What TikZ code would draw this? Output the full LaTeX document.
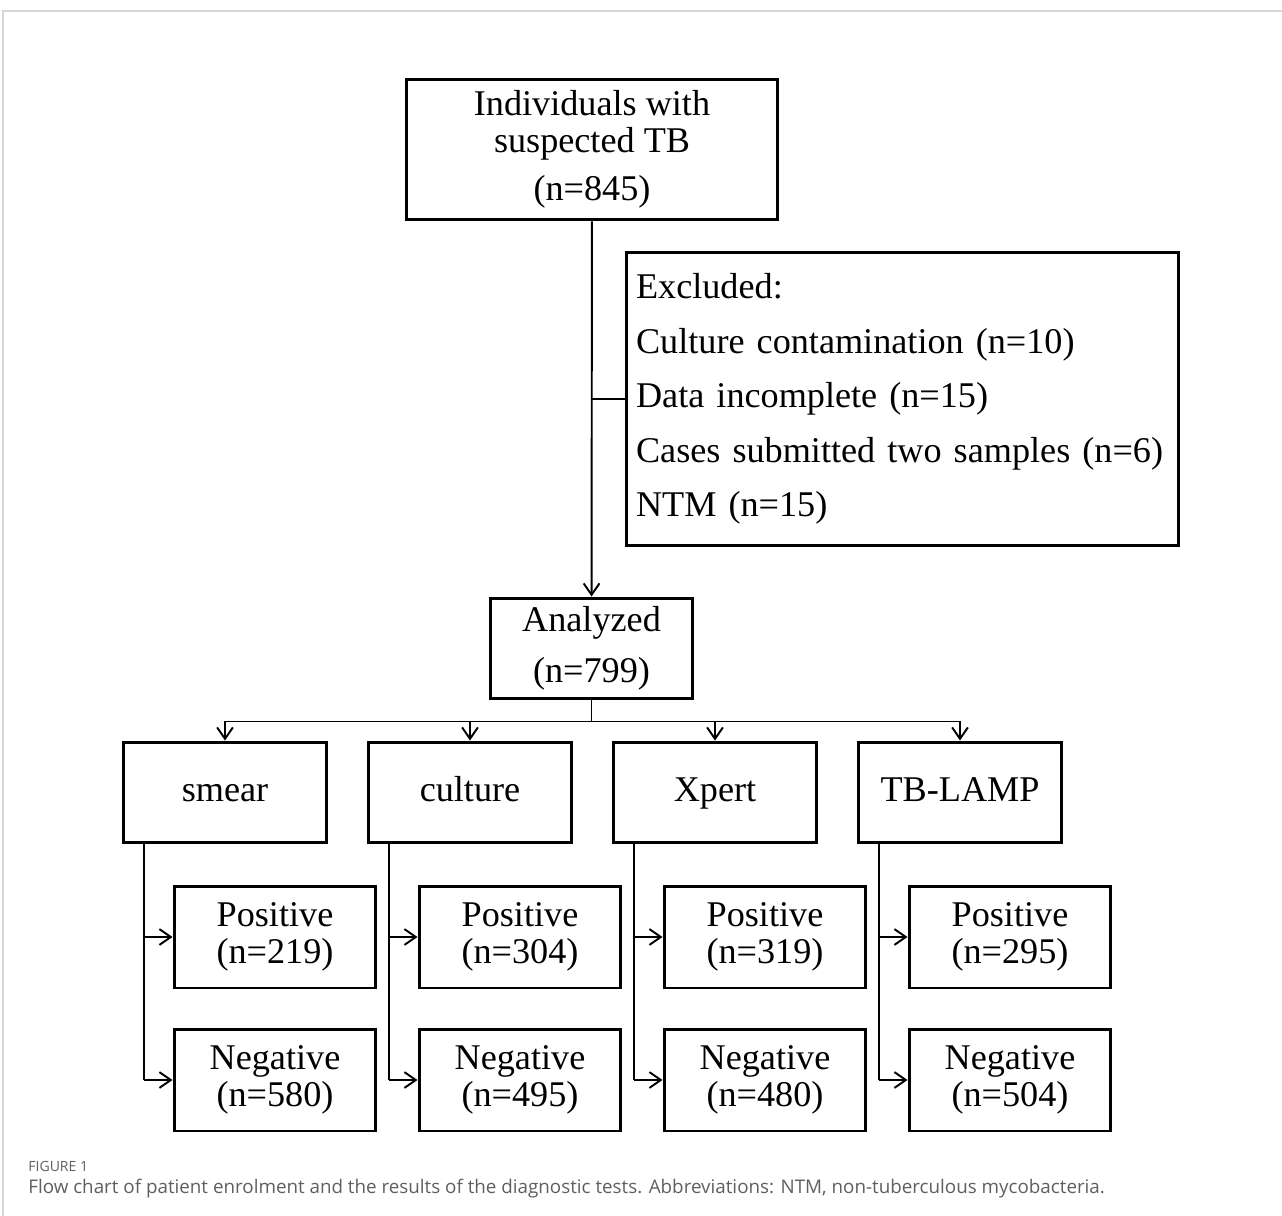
\documentclass[tikz,border=0pt]{standalone}
\usepackage{fontspec}
\setmainfont{Liberation Serif}
\newfontfamily\capfont{Open Sans}
\usetikzlibrary{arrows.meta}
\definecolor{capgray}{RGB}{95,95,95}
\definecolor{framegray}{RGB}{215,215,215}

\tikzset{
  box/.style={draw, line width=1.7pt, align=center, inner sep=0pt,
    font=\fontsize{20.6}{21}\selectfont},
  testbox/.style={box, minimum width=4.06cm, minimum height=2.02cm},
  resbox/.style={box, minimum width=4.04cm, minimum height=2.04cm},
  link/.style={line width=1.1pt},
  >={Straight Barb[length=6.5pt,width=9pt]}
}

\begin{document}
\begin{tikzpicture}[x=0.02cm,y=-0.02cm]
  \useasboundingbox (0,0) rectangle (1282,1216);
  \draw[framegray, line width=1pt] (1282,11) -- (3,11) -- (3,1216);

  % top part
  \node[box, minimum width=7.44cm, minimum height=2.82cm] (top) at (592,149.5)
    {Individuals with\\suspected TB\\[6.5pt](n=845)};
  \node[box, align=left, text width=10.66cm, inner xsep=0.2cm, minimum height=5.88cm,
    font=\fontsize{20.6}{31}\selectfont] (excl) at (902.5,399)
    {Excluded:\\Culture contamination (n=10)\\Data incomplete (n=15)\\\mbox{Cases submitted two samples (n=6)}\\NTM (n=15)};
  \node[testbox, font=\fontsize{20.6}{29}\selectfont] (ana) at (591.5,648.5) {Analyzed\\(n=799)};

  \draw[link,->] (top) -- (ana);
  \draw[link] (top.south |- excl.west) -- (excl.west);

  % tests
  \foreach \i/\x/\name/\p/\n in {1/225/smear/219/580, 2/470/culture/304/495,
                                  3/715/Xpert/319/480, 4/960/TB-LAMP/295/504} {
    \node[testbox, text height=14pt, text depth=4pt] (t\i) at (\x,792.5) {\name};
    \node[resbox] (p\i) at (\x+50,937) {Positive\\(n=\p)};
    \node[resbox] (q\i) at (\x+50,1080) {Negative\\(n=\n)};
    \draw[link] (t\i.south west) ++(22,0) coordinate (s\i) -- (s\i |- q\i.west);
    \draw[link,->] (s\i |- p\i.west) -- (p\i.west);
    \draw[link,->] (s\i |- q\i.west) -- (q\i.west);
  }

  \draw[link] (ana.south) -- ++(0,21) coordinate (bus);
  \draw[link] (t1.north |- bus) -- (t4.north |- bus);
  \foreach \i in {1,...,4}
    \draw[link,->] (t\i.north |- bus) -- (t\i.north);

  % caption
  \node[anchor=west, inner sep=0pt, text=capgray, font=\capfont\fontsize{8}{9}\selectfont] (fig) at (28,1166) {FIGURE 1};
  \node[anchor=west, inner sep=0pt, text=capgray, font=\capfont\fontsize{10.7}{12}\selectfont] (cap) at (28,1189)
    {Flow chart of patient enrolment and the results of the diagnostic tests. Abbreviations: NTM, non-tuberculous mycobacteria.};
\end{tikzpicture}
\end{document}
